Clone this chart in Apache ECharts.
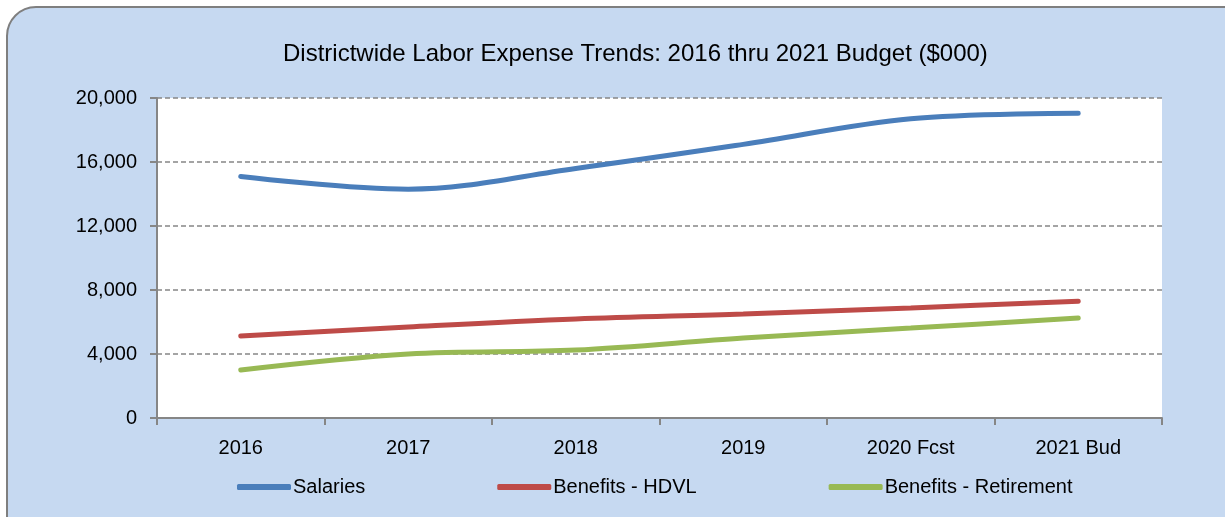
<!DOCTYPE html>
<html lang="en">
<head>
    <meta charset="UTF-8">
    <title>Districtwide Labor Expense Trends</title>
    <script src="https://cdn.jsdelivr.net/npm/echarts@6/dist/echarts.min.js"></script>
    <style>
        body {
            margin: 0;
            padding: 0;
            background: #ffffff;
            width: 1225px;
            height: 517px;
            overflow: hidden;
        }
        .frame {
            position: absolute;
            left: 6px;
            top: 6px;
            width: 1250px;
            height: 540px;
            background: #c6d9f1;
            border: 2px solid #7f7f7f;
            border-radius: 30px;
        }
        #chart {
            position: absolute;
            left: 0;
            top: 0;
            width: 1225px;
            height: 517px;
        }
    </style>
</head>
<body>
<div class="frame"></div>
<div id="chart"></div>

<script>
    // data ($000)
    const years = ['2016', '2017', '2018', '2019', '2020 Fcst', '2021 Bud'];
    const salaries = [15100, 14300, 15600, 17100, 18700, 19050];
    const benefitsHdvl = [5120, 5690, 6190, 6500, 6880, 7300];
    const benefitsRetirement = [3000, 4000, 4250, 5000, 5620, 6250];

    const font = '"Liberation Sans Narrow", "Arial Narrow", "Liberation Sans", Arial, sans-serif';
    const chart = echarts.init(document.getElementById('chart'));

    const mkSeries = (name, data, color) => ({
        name: name,
        type: 'line',
        data: data,
        smooth: 0.35,
        symbol: 'none',
        lineStyle: { width: 5, color: color, cap: 'round' },
        itemStyle: { color: color }
    });

    chart.setOption({
        animation: false,
        textStyle: { fontFamily: font },
        title: {
            text: 'Districtwide Labor Expense Trends: 2016 thru 2021 Budget ($000)',
            left: 278,
            top: 37,
            textStyle: { fontFamily: font, fontSize: 24, fontWeight: 'normal', color: '#000' }
        },
        legend: {
            bottom: 15,
            left: 232,
            itemGap: 132,
            itemWidth: 54,
            itemHeight: 6,
            icon: 'roundRect',
            textStyle: { fontFamily: font, fontSize: 20, color: '#000', padding: [0, 0, 0, -3] },
            data: ['Salaries', 'Benefits - HDVL', 'Benefits - Retirement']
        },
        grid: {
            left: 157,
            right: 63,
            top: 98,
            bottom: 99,
            show: true,
            backgroundColor: '#ffffff',
            borderWidth: 0
        },
        xAxis: {
            type: 'category',
            data: years,
            boundaryGap: true,
            axisLine: { lineStyle: { color: '#868686', width: 2 } },
            axisTick: { show: true, length: 7, lineStyle: { color: '#868686', width: 2 } },
            axisLabel: { fontFamily: font, fontSize: 20, color: '#000', margin: 20 }
        },
        yAxis: {
            type: 'value',
            min: 0,
            max: 20000,
            interval: 4000,
            axisLine: { show: true, lineStyle: { color: '#868686', width: 2 } },
            axisTick: { show: true, length: 7, lineStyle: { color: '#868686', width: 2 } },
            axisLabel: {
                fontFamily: font, fontSize: 20, color: '#000', margin: 20,
                formatter: v => v.toLocaleString('en-US')
            },
            splitLine: { lineStyle: { color: '#868686', type: [5, 3], width: 1.5 } }
        },
        series: [
            mkSeries('Salaries', salaries, '#4a7ebb'),
            mkSeries('Benefits - HDVL', benefitsHdvl, '#be4b48'),
            mkSeries('Benefits - Retirement', benefitsRetirement, '#98b954')
        ]
    });
</script>
</body>
</html>
